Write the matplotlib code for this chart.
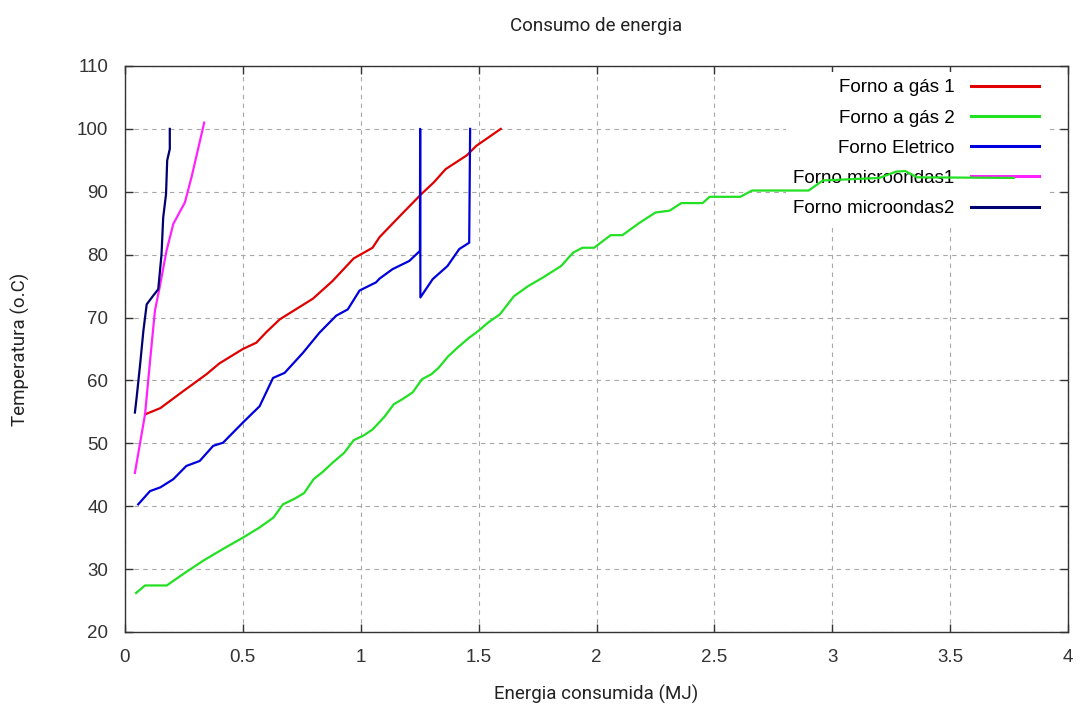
import matplotlib
matplotlib.use('Agg')
import matplotlib.pyplot as plt

# Forno a gás 1
red_x = [0.085, 0.15, 0.247, 0.346, 0.40, 0.50, 0.557, 0.60, 0.656, 0.72, 0.797,
         0.88, 0.97, 1.05, 1.08, 1.17, 1.256, 1.31, 1.36, 1.45, 1.49, 1.594]
red_y = [54.6, 55.6, 58.3, 61.0, 62.7, 65.0, 66.0, 67.7, 69.7, 71.2, 73.0,
         75.8, 79.4, 81.1, 82.8, 86.3, 89.6, 91.5, 93.6, 95.8, 97.3, 100]

# Forno a gás 2
green_x = [0.047, 0.085, 0.177, 0.25, 0.33, 0.42, 0.50, 0.57, 0.63, 0.67, 0.72,
           0.76, 0.80, 0.84, 0.88, 0.93, 0.97, 1.01, 1.05, 1.10, 1.14, 1.18,
           1.22, 1.26, 1.30, 1.33, 1.37, 1.41, 1.46, 1.50, 1.54, 1.59, 1.65,
           1.71, 1.77, 1.85, 1.90, 1.94, 1.99, 2.06, 2.11, 2.18, 2.25, 2.31,
           2.36, 2.45, 2.48, 2.61, 2.66, 2.90, 2.96, 3.20, 3.27, 3.31, 3.36, 3.77]
green_y = [26.2, 27.4, 27.4, 29.3, 31.3, 33.3, 35.0, 36.6, 38.2, 40.3, 41.2,
           42.1, 44.3, 45.5, 46.9, 48.5, 50.5, 51.2, 52.2, 54.2, 56.2, 57.1,
           58.1, 60.2, 61.0, 62.0, 63.8, 65.2, 66.8, 67.9, 69.2, 70.5, 73.4,
           75.0, 76.3, 78.2, 80.3, 81.1, 81.1, 83.1, 83.1, 85.0, 86.7, 87.0,
           88.2, 88.2, 89.2, 89.2, 90.2, 90.2, 91.8, 92.2, 93.2, 93.3, 92.3, 92.2]

# Forno Eletrico
blue_x = [0.056, 0.106, 0.15, 0.205, 0.26, 0.317, 0.374, 0.416, 0.50, 0.571,
          0.628, 0.677, 0.755, 0.825, 0.896, 0.945, 0.995, 1.065, 1.08, 1.135,
          1.206, 1.251, 1.252, 1.253, 1.305, 1.368, 1.418, 1.46, 1.464]
blue_y = [40.3, 42.4, 43.0, 44.3, 46.4, 47.2, 49.6, 50.1, 53.3, 55.9,
          60.4, 61.2, 64.4, 67.6, 70.3, 71.3, 74.3, 75.6, 76.2, 77.7,
          79.0, 80.6, 100, 73.2, 76.1, 78.2, 80.9, 81.9, 100]

# Forno microondas1
mag_x = [0.042, 0.085, 0.106, 0.127, 0.148, 0.176, 0.205, 0.254, 0.282, 0.31, 0.336]
mag_y = [45.3, 54.6, 63.0, 71.1, 75.0, 80.6, 84.9, 88.3, 92.3, 96.8, 101]

# Forno microondas2
navy_x = [0.042, 0.05, 0.064, 0.078, 0.092, 0.12, 0.141, 0.155, 0.162, 0.174,
          0.179, 0.19, 0.19]
navy_y = [54.9, 57.5, 62.5, 67.9, 72.1, 73.5, 74.5, 80.1, 85.9, 89.6,
          95.0, 96.8, 100]

labels = ['Forno a gás 1', 'Forno a gás 2', 'Forno Eletrico',
          'Forno microondas1', 'Forno microondas2']
colors = ['#e00000', '#22e022', '#0000dd', '#ff22ff', '#000070']

tick_font = ['Liberation Sans', 'DejaVu Sans']
label_font = ['Roboto', 'DejaVu Sans']

fig = plt.figure(figsize=(10.81, 7.13), dpi=100)
ax = fig.add_axes([125 / 1081, 1 - 632 / 713, 943 / 1081, 566 / 713])

series = [(red_x, red_y), (green_x, green_y), (blue_x, blue_y),
          (mag_x, mag_y), (navy_x, navy_y)]
for (x, y), lab, c in zip(series, labels, colors):
    ax.plot(x, y, '-', color=c, lw=1.6, label=lab, zorder=3)

ax.set_xlim(0, 4)
ax.set_ylim(20, 110)
ax.set_xticks([0, 0.5, 1, 1.5, 2, 2.5, 3, 3.5, 4])
ax.set_xticklabels(['0', '0.5', '1', '1.5', '2', '2.5', '3', '3.5', '4'])
ax.set_yticks(range(20, 111, 10))

ax.set_axisbelow(True)
ax.grid(True, color='#a8a8a8', linestyle=(0, (4, 4)), lw=0.8)
for s in ax.spines.values():
    s.set_color('#333333')
    s.set_linewidth(1.0)
ax.tick_params(direction='in', length=6, width=1, color='#333333',
               top=True, right=True, labelsize=13.5, labelcolor='#333333',
               pad=12)
for t in ax.get_xticklabels() + ax.get_yticklabels():
    t.set_family(tick_font)

ax.set_title('Consumo de energia', family=label_font, fontsize=13.5, pad=25,
             color='#222222')
ax.set_xlabel('Energia consumida (MJ)', family=label_font, fontsize=13.5,
              labelpad=14, color='#222222')
ax.set_ylabel('Temperatura (o.C)', family=label_font, fontsize=13.5,
              labelpad=34, color='#222222')

leg = ax.legend(loc='upper right', bbox_to_anchor=(0.977, 0.99),
                markerfirst=False, frameon=True, fancybox=False,
                framealpha=1, edgecolor='none', facecolor='white',
                handlelength=3.6, handletextpad=0.9, labelspacing=0.7,
                borderaxespad=0, borderpad=0.4,
                prop={'family': tick_font, 'size': 13.5})
for line in leg.get_lines():
    line.set_linewidth(2.2)
leg.set_zorder(2)

fig.savefig('out.png', dpi=100)
